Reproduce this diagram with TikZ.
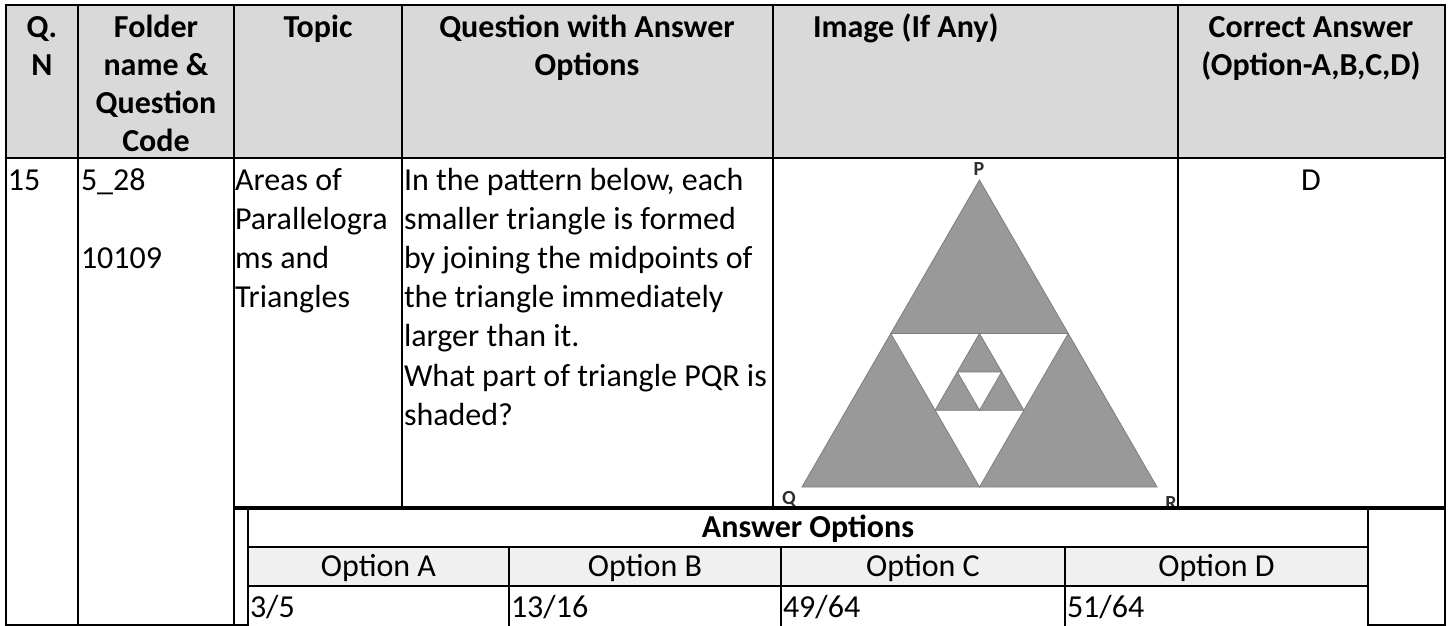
\documentclass[tikz,border=0pt]{standalone}
\usepackage{fontspec}
\setmainfont{Carlito}
\usetikzlibrary{positioning, calc}
\definecolor{headgray}{RGB}{217,217,217}
\definecolor{optgray}{RGB}{240,240,240}
\definecolor{trigray}{RGB}{153,153,153}
\definecolor{triedge}{RGB}{125,125,125}
\definecolor{lblgray}{RGB}{45,45,45}
\tikzset{
  headtext/.style={inner sep=0, outer sep=0, anchor=base,
    font=\fontsize{32}{38}\selectfont\bfseries},
  bodytext/.style={inner sep=0, outer sep=0, anchor=base west,
    font=\fontsize{32}{39}\selectfont},
  midtext/.style={inner sep=0, outer sep=0, anchor=base,
    font=\fontsize{32}{39}\selectfont},
  rule/.style={line width=2pt, line cap=rect},
  thickrule/.style={line width=3.5pt},
  shaded/.style={fill=trigray, draw=triedge, line width=0.8pt},
  hole/.style={fill=white, draw=triedge, line width=0.8pt},
  vertexlbl/.style={inner sep=0, text=lblgray,
    font=\fontsize{20}{20}\selectfont\bfseries}
}

\begin{document}
\begin{tikzpicture}[x=1pt, y=-1pt]
\useasboundingbox (0,0) rectangle (1452,626);

% fills
\fill[headgray] (6,5) rectangle (1445,158);
\fill[optgray] (248,547) rectangle (1368,586);

% triangle PQR
\coordinate (P) at (979.5,180);
\coordinate (Q) at (802,487);
\coordinate (R) at (1157,487);
\coordinate (PQ) at ($(P)!0.5!(Q)$);
\coordinate (PR) at ($(P)!0.5!(R)$);
\coordinate (QR) at ($(Q)!0.5!(R)$);
\coordinate (a1) at ($(PQ)!0.5!(PR)$);
\coordinate (a2) at ($(PQ)!0.5!(QR)$);
\coordinate (a3) at ($(PR)!0.5!(QR)$);
\coordinate (b1) at ($(a1)!0.5!(a2)$);
\coordinate (b2) at ($(a1)!0.5!(a3)$);
\coordinate (b3) at ($(a2)!0.5!(a3)$);
\draw[shaded] (P) -- (Q) -- (R) -- cycle;
\draw[hole] (PQ) -- (PR) -- (QR) -- cycle;
\draw[shaded] (a1) -- (a2) -- (a3) -- cycle;
\draw[hole] (b1) -- (b2) -- (b3) -- cycle;

\node [vertexlbl] (lblP) at (979,169) {P};
\node [vertexlbl] (lblQ) at (789,499) {Q};
\node [vertexlbl] (lblR) at (1171,503) {R};

% header row
\node [headtext] (qn1) at (42,37.5) {Q.};
\node [headtext] (qn2) at (42,75.5) {N};
\node [headtext] (fold1) at (156,37.5) {Folder};
\node [headtext] (fold2) at (156,75.5) {name \&};
\node [headtext] (fold3) at (156,113.5) {Question};
\node [headtext] (fold4) at (156,151.5) {Code};
\node [headtext] (topic) at (318,37.5) {Topic};
\node [headtext] (qwa1) at (587,37.5) {Question with Answer};
\node [headtext] (qwa2) at (587,75.5) {Options};
\node [headtext, anchor=base west] (img) at (813,37.5) {Image (If Any)};
\node [headtext] (corr1) at (1311,37.5) {Correct Answer};
\node [headtext] (corr2) at (1311,75.5) {(Option-A,B,C,D)};

% question row
\node [bodytext] (num) at (8,190) {15};
\node [bodytext] (code1) at (81,190) {5\_28};
\node [bodytext] (code2) at (81,268.4) {10109};
\node [bodytext] (top1) at (235,190) {Areas of};
\node [bodytext] (top2) at (235,229.2) {Parallelogra};
\node [bodytext] (top3) at (235,268.4) {ms and};
\node [bodytext] (top4) at (235,307.6) {Triangles};
\node [bodytext] (ques1) at (404,190) {In the pattern below, each};
\node [bodytext] (ques2) at (404,229.2) {smaller triangle is formed};
\node [bodytext] (ques3) at (404,268.4) {by joining the midpoints of};
\node [bodytext] (ques4) at (404,307.6) {the triangle immediately};
\node [bodytext] (ques5) at (404,346.8) {larger than it.};
\node [bodytext] (ques6) at (404,386) {What part of triangle PQR is};
\node [bodytext] (ques7) at (404,425.2) {shaded?};
\node [midtext] (ans) at (1311,190) {D};

% answer options
\node [headtext] (ansopt) at (808,537) {Answer Options};
\node [midtext] (optA) at (378.5,576) {Option A};
\node [midtext] (optB) at (645,576) {Option B};
\node [midtext] (optC) at (923,576) {Option C};
\node [midtext] (optD) at (1216.5,576) {Option D};
\node [bodytext] (valA) at (250,617) {3/5};
\node [bodytext] (valB) at (511,617) {13/16};
\node [bodytext] (valC) at (783,617) {49/64};
\node [bodytext] (valD) at (1067,617) {51/64};

% grid
\draw[rule] (6,5) -- (1445,5);
\draw[rule] (6,158) -- (1445,158);
\draw[rule] (6,5) -- (6,624.5) -- (248,624.5);
\draw[rule] (78,5) -- (78,624.5);
\draw[rule] (233.5,5) -- (233.5,624.5);
\draw[rule] (402,5) -- (402,508);
\draw[rule] (773,5) -- (773,508);
\draw[rule] (1178,5) -- (1178,508);
\draw[rule] (1445,5) -- (1445,624.5) -- (1368,624.5);
\draw[thickrule] (232.5,508) -- (1446,508);
\draw[rule] (248,508) -- (248,630);
\draw[rule] (248,547) -- (1368,547);
\draw[rule] (248,586) -- (1368,586);
\draw[rule] (509,547) -- (509,630);
\draw[rule] (781,547) -- (781,630);
\draw[rule] (1065,547) -- (1065,630);
\draw[rule] (1368,508) -- (1368,630);
\end{tikzpicture}
\end{document}
